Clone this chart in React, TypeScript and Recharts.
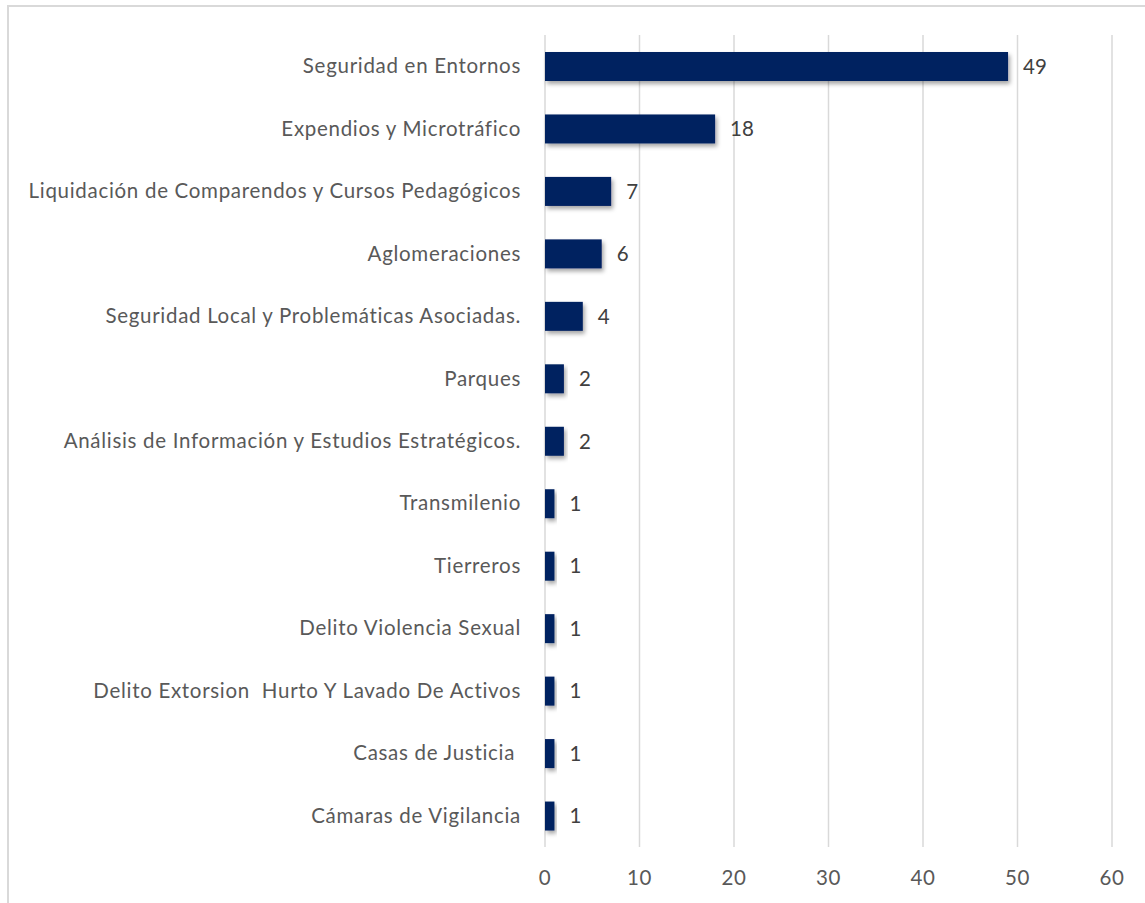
import React from 'react';
import { BarChart, Bar, XAxis, YAxis, CartesianGrid, LabelList } from 'recharts';

const categories = [
  'Seguridad en Entornos',
  'Expendios y Microtráfico',
  'Liquidación de Comparendos y Cursos Pedagógicos',
  'Aglomeraciones',
  'Seguridad Local y Problemáticas Asociadas.',
  'Parques',
  'Análisis de Información y Estudios Estratégicos.',
  'Transmilenio',
  'Tierreros',
  'Delito Violencia Sexual',
  'Delito Extorsion  Hurto Y Lavado De Activos',
  'Casas de Justicia ',
  'Cámaras de Vigilancia',
];
const values = [49, 18, 7, 6, 4, 2, 2, 1, 1, 1, 1, 1, 1];
const xTicks = [0, 10, 20, 30, 40, 50, 60];

const data = categories.map((name, i) => ({ name, value: values[i] }));

const FONT = 'Lato, "Open Sans", sans-serif';

const CategoryTick = ({ x, y, payload }: any) => (
  <text
    x={x - 16}
    y={y}
    dy={7}
    textAnchor="end"
    fill="#595959"
    fontSize={20.5}
    letterSpacing={0.7}
    fontFamily={FONT}
    style={{ whiteSpace: 'pre' }}
  >
    {payload.value}
  </text>
);

const ValueTick = ({ x, y, payload }: any) => (
  <text x={x} y={y + 23} dy={7} textAnchor="middle" fill="#595959" fontSize={20.5} letterSpacing={0.5} fontFamily={FONT}>
    {payload.value}
  </text>
);

const ShadowBar = (props: any) => {
  const { x, y, width, height } = props;
  if (!width || width <= 0) return null;
  return <rect x={x} y={y} width={width} height={height} fill="#002060" filter="url(#barShadow)" />;
};

export default function App() {
  return (
    <div style={{ position: 'absolute', left: 0, top: 0, width: 1145, height: 903, background: '#fff', overflow: 'hidden' }}>
      <div
        style={{
          position: 'absolute',
          left: 7,
          top: 5,
          width: 1160,
          height: 920,
          borderLeft: '2px solid #d9d9d9',
          borderTop: '2px solid #d9d9d9',
        }}
      />
      <div style={{ position: 'absolute', left: 0, top: 0 }}>
        <BarChart
          width={1145}
          height={903}
          data={data}
          layout="vertical"
          margin={{ top: 35, right: 33, bottom: 16, left: 0 }}
          barCategoryGap="53%"
        >
          <defs>
            <filter id="barShadow" x="-10%" y="-20%" width="130%" height="160%">
              <feDropShadow dx={2} dy={3} stdDeviation={2} floodColor="#000" floodOpacity={0.35} />
            </filter>
          </defs>
          <CartesianGrid horizontal={false} vertical stroke="#d9d9d9" strokeWidth={1.5} />
          <XAxis
            type="number"
            domain={[0, 60]}
            ticks={xTicks}
            height={40}
            axisLine={false}
            tickLine={false}
            tick={<ValueTick />}
            interval={0}
          />
          <YAxis
            type="category"
            dataKey="name"
            width={545}
            axisLine={false}
            tickLine={false}
            tick={<CategoryTick />}
            interval={0}
          />
          <Bar dataKey="value" barSize={29} shape={<ShadowBar />} isAnimationActive={false}>
            <LabelList dataKey="value" position="right" offset={15} fill="#404040" fontSize={20.5} fontFamily={FONT} />
          </Bar>
        </BarChart>
      </div>
    </div>
  );
}
